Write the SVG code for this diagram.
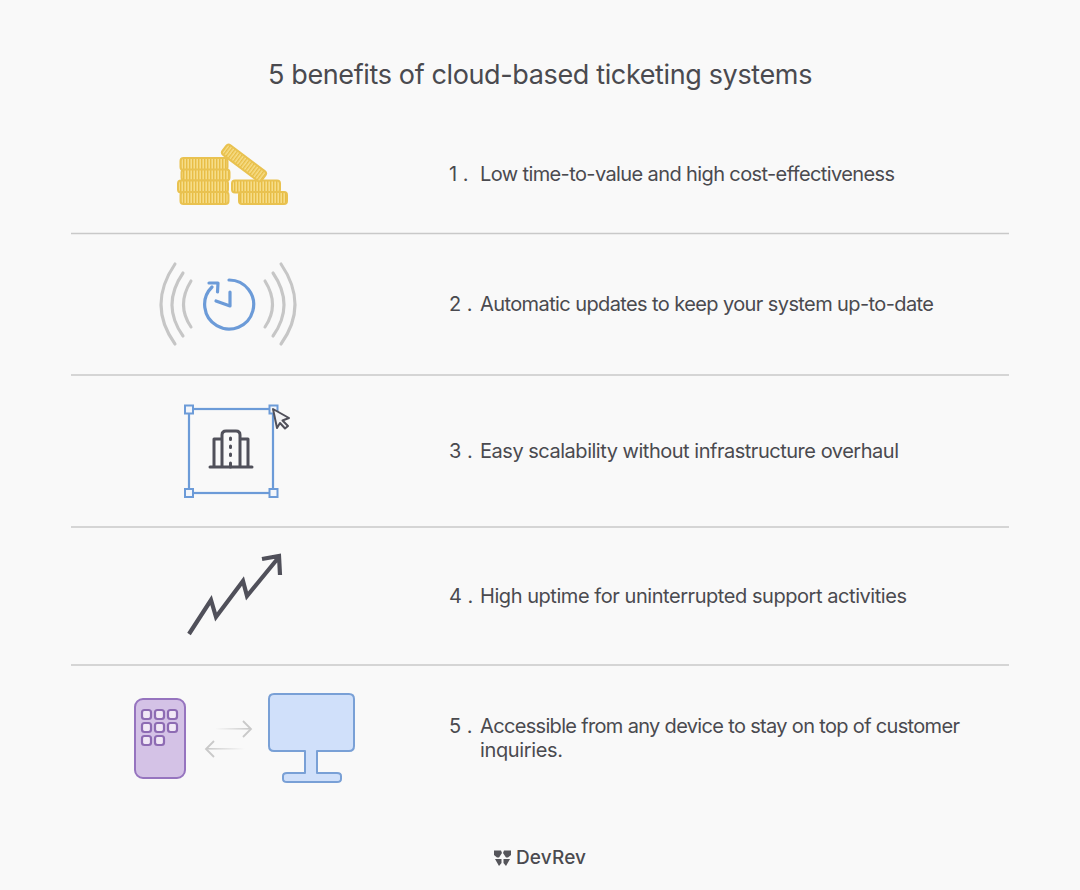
<svg xmlns="http://www.w3.org/2000/svg" width="1080" height="890" viewBox="0 0 1080 890">
<defs>
<pattern id="ridge" width="3" height="3" patternUnits="userSpaceOnUse"><rect width="3" height="3" fill="#f6dd88"/><rect width="1.4" height="3" fill="#e8bd45"/></pattern>
<linearGradient id="fadeR" x1="0" x2="1" y1="0" y2="0"><stop offset="0" stop-color="#c9c9c9" stop-opacity="0"/><stop offset="1" stop-color="#c9c9c9"/></linearGradient>
<linearGradient id="fadeL" x1="1" x2="0" y1="0" y2="0"><stop offset="0" stop-color="#c9c9c9" stop-opacity="0"/><stop offset="1" stop-color="#c9c9c9"/></linearGradient>
</defs>
<style>
text{font-family:"Inter","Liberation Sans",sans-serif;fill:#4a4a4f}
.t{font-size:20px}
.n{font-size:20px}
.title{font-size:27px;letter-spacing:-.37px}
.div{stroke:#c9c9c9;stroke-width:1.3}
.coin{fill:url(#ridge);stroke:#e9c250;stroke-width:2}
.wave{fill:none;stroke:#c6c6c6;stroke-width:3.1;stroke-linecap:round}
.blue{fill:none;stroke:#6c9bd8;stroke-width:3.2;stroke-linecap:round;stroke-linejoin:round}
.handle{fill:#f3f6fb;stroke:#6c9bd8;stroke-width:2}
.dark{fill:none;stroke:#50505a;stroke-width:3;stroke-linecap:round;stroke-linejoin:round}
.key{fill:#f1e8f6;stroke:#8d6bb3;stroke-width:2.2}
</style>
<rect width="1080" height="890" fill="#f9f9f9"/>
<text class="title" x="540" y="84" text-anchor="middle">5 benefits of cloud-based ticketing systems</text>
<g id="dividers">
<line class="div" x1="71" y1="233.500" x2="1009" y2="233.500"/>
<line class="div" x1="71" y1="375" x2="1009" y2="375"/>
<line class="div" x1="71" y1="527" x2="1009" y2="527"/>
<line class="div" x1="71" y1="665" x2="1009" y2="665"/>
</g>
<g id="item1">
<rect class="coin" x="180.500" y="158" width="47" height="12" rx="3"/>
<rect class="coin" x="181.500" y="169.500" width="48" height="11" rx="3"/>
<rect class="coin" x="178" y="180.500" width="50" height="12" rx="3"/>
<rect class="coin" x="180.500" y="192" width="48" height="12" rx="3"/>
<rect class="coin" x="232" y="180.500" width="48" height="12" rx="3"/>
<rect class="coin" x="239" y="192" width="48" height="12" rx="3"/>
<rect class="coin" x="219.500" y="157" width="49" height="12" rx="3" transform="rotate(37 244 163)"/>
<text class="n" x="449" y="181">1 .</text>
<text class="t" x="480" y="181" textLength="415">Low time-to-value and high cost-effectiveness</text>
</g>
<g id="item2">
<path class="wave" d="M175 264Q147 305 175 344"/>
<path class="wave" d="M183 273Q161 305 183 336"/>
<path class="wave" d="M191 281Q176 305 191 327"/>
<path class="wave" d="M281 264Q309 305 281 344"/>
<path class="wave" d="M273 273Q295 305 273 336"/>
<path class="wave" d="M265 281Q280 305 265 327"/>
<path class="blue" d="M229 280A24.500 24.500 0 1 1 212 287M209 283L218 283L217.500 292"/>
<path class="blue" d="M230 292L230 306L216 301"/>
<text class="n" x="449" y="311">2 .</text>
<text class="t" x="480" y="311" textLength="454">Automatic updates to keep your system up-to-date</text>
</g>
<g id="item3">
<rect x="189" y="409" width="84" height="84" fill="none" stroke="#6c9bd8" stroke-width="2.2"/>
<rect class="handle" x="185" y="405.500" width="8" height="8"/>
<rect class="handle" x="269.500" y="405.500" width="8" height="8"/>
<rect class="handle" x="185" y="489" width="8" height="8"/>
<rect class="handle" x="269.500" y="489" width="8" height="8"/>
<path d="M273 409L289 418L282.500 420.500L288 426L285 428.500L280 423L277 428Z" fill="#f3f3f5" stroke="#50505a" stroke-width="2" stroke-linejoin="round"/>
<path class="dark" d="M210 467L252 467M214 467V439H222M248 467V439H240M222 467V435Q222 431 226 431H236Q240 431 240 435V467"/>
<path d="M230.500 438v1.500M230.500 446v1.500M230.500 454v1.500M230.500 463v4" stroke="#50505a" stroke-width="3" stroke-linecap="round"/>
<text class="n" x="449" y="458">3 .</text>
<text class="t" x="480" y="458" textLength="419">Easy scalability without infrastructure overhaul</text>
</g>
<g id="item4">
<path d="M189 634L211 600L216 617L243 581L247 596L279 557M262 559L279 556L280 575" fill="none" stroke="#50505a" stroke-width="4.200" stroke-linecap="butt" stroke-linejoin="miter"/>
<text class="n" x="449" y="603">4 .</text>
<text class="t" x="480" y="603" textLength="427">High uptime for uninterrupted support activities</text>
</g>
<g id="item5">
<rect x="135" y="699" width="50" height="79" rx="8" fill="#d4c2e6" stroke="#9674bf" stroke-width="2"/>
<rect class="key" x="142" y="710" width="9" height="9" rx="2.500"/>
<rect class="key" x="155" y="710" width="9" height="9" rx="2.500"/>
<rect class="key" x="168" y="710" width="9" height="9" rx="2.500"/>
<rect class="key" x="142" y="723" width="9" height="9" rx="2.500"/>
<rect class="key" x="155" y="723" width="9" height="9" rx="2.500"/>
<rect class="key" x="168" y="723" width="9" height="9" rx="2.500"/>
<rect class="key" x="142" y="736" width="9" height="9" rx="2.500"/>
<rect class="key" x="155" y="736" width="9" height="9" rx="2.500"/>
<rect x="215" y="728" width="35" height="1.600" fill="url(#fadeR)"/>
<path d="M243 721L251 729L243 737" fill="none" stroke="#c9c9c9" stroke-width="1.800"/>
<rect x="207" y="748" width="38" height="1.600" fill="url(#fadeL)"/>
<path d="M214 741L206 749L214 757" fill="none" stroke="#c9c9c9" stroke-width="1.800"/>
<path d="M274 694H349Q354 694 354 699V746Q354 751 349 751H317V773H337Q341 773 341 776V779Q341 782 337 782H287Q283 782 283 779V776Q283 773 287 773H305V751H274Q269 751 269 746V699Q269 694 274 694Z" fill="#d0e0fa" stroke="#79a0d6" stroke-width="2" stroke-linejoin="round"/>
<text class="n" x="449" y="733">5 .</text>
<text class="t" x="480" y="733" textLength="480">Accessible from any device to stay on top of customer</text>
<text class="t" x="480" y="757" textLength="83">inquiries.</text>
</g>
<g id="logo">
<path d="M494 850.500H501L502 853L499 857.500L497 857.500L494 855ZM511 850.500H504L503 853L506 857.500L508 857.500L511 855ZM495 859H501.500V863L499 866ZM510 859H503.500V863L506 866Z" fill="#55555a"/>
<text x="516" y="864" font-size="19" font-weight="500" textLength="70">DevRev</text>
</g>
</svg>
